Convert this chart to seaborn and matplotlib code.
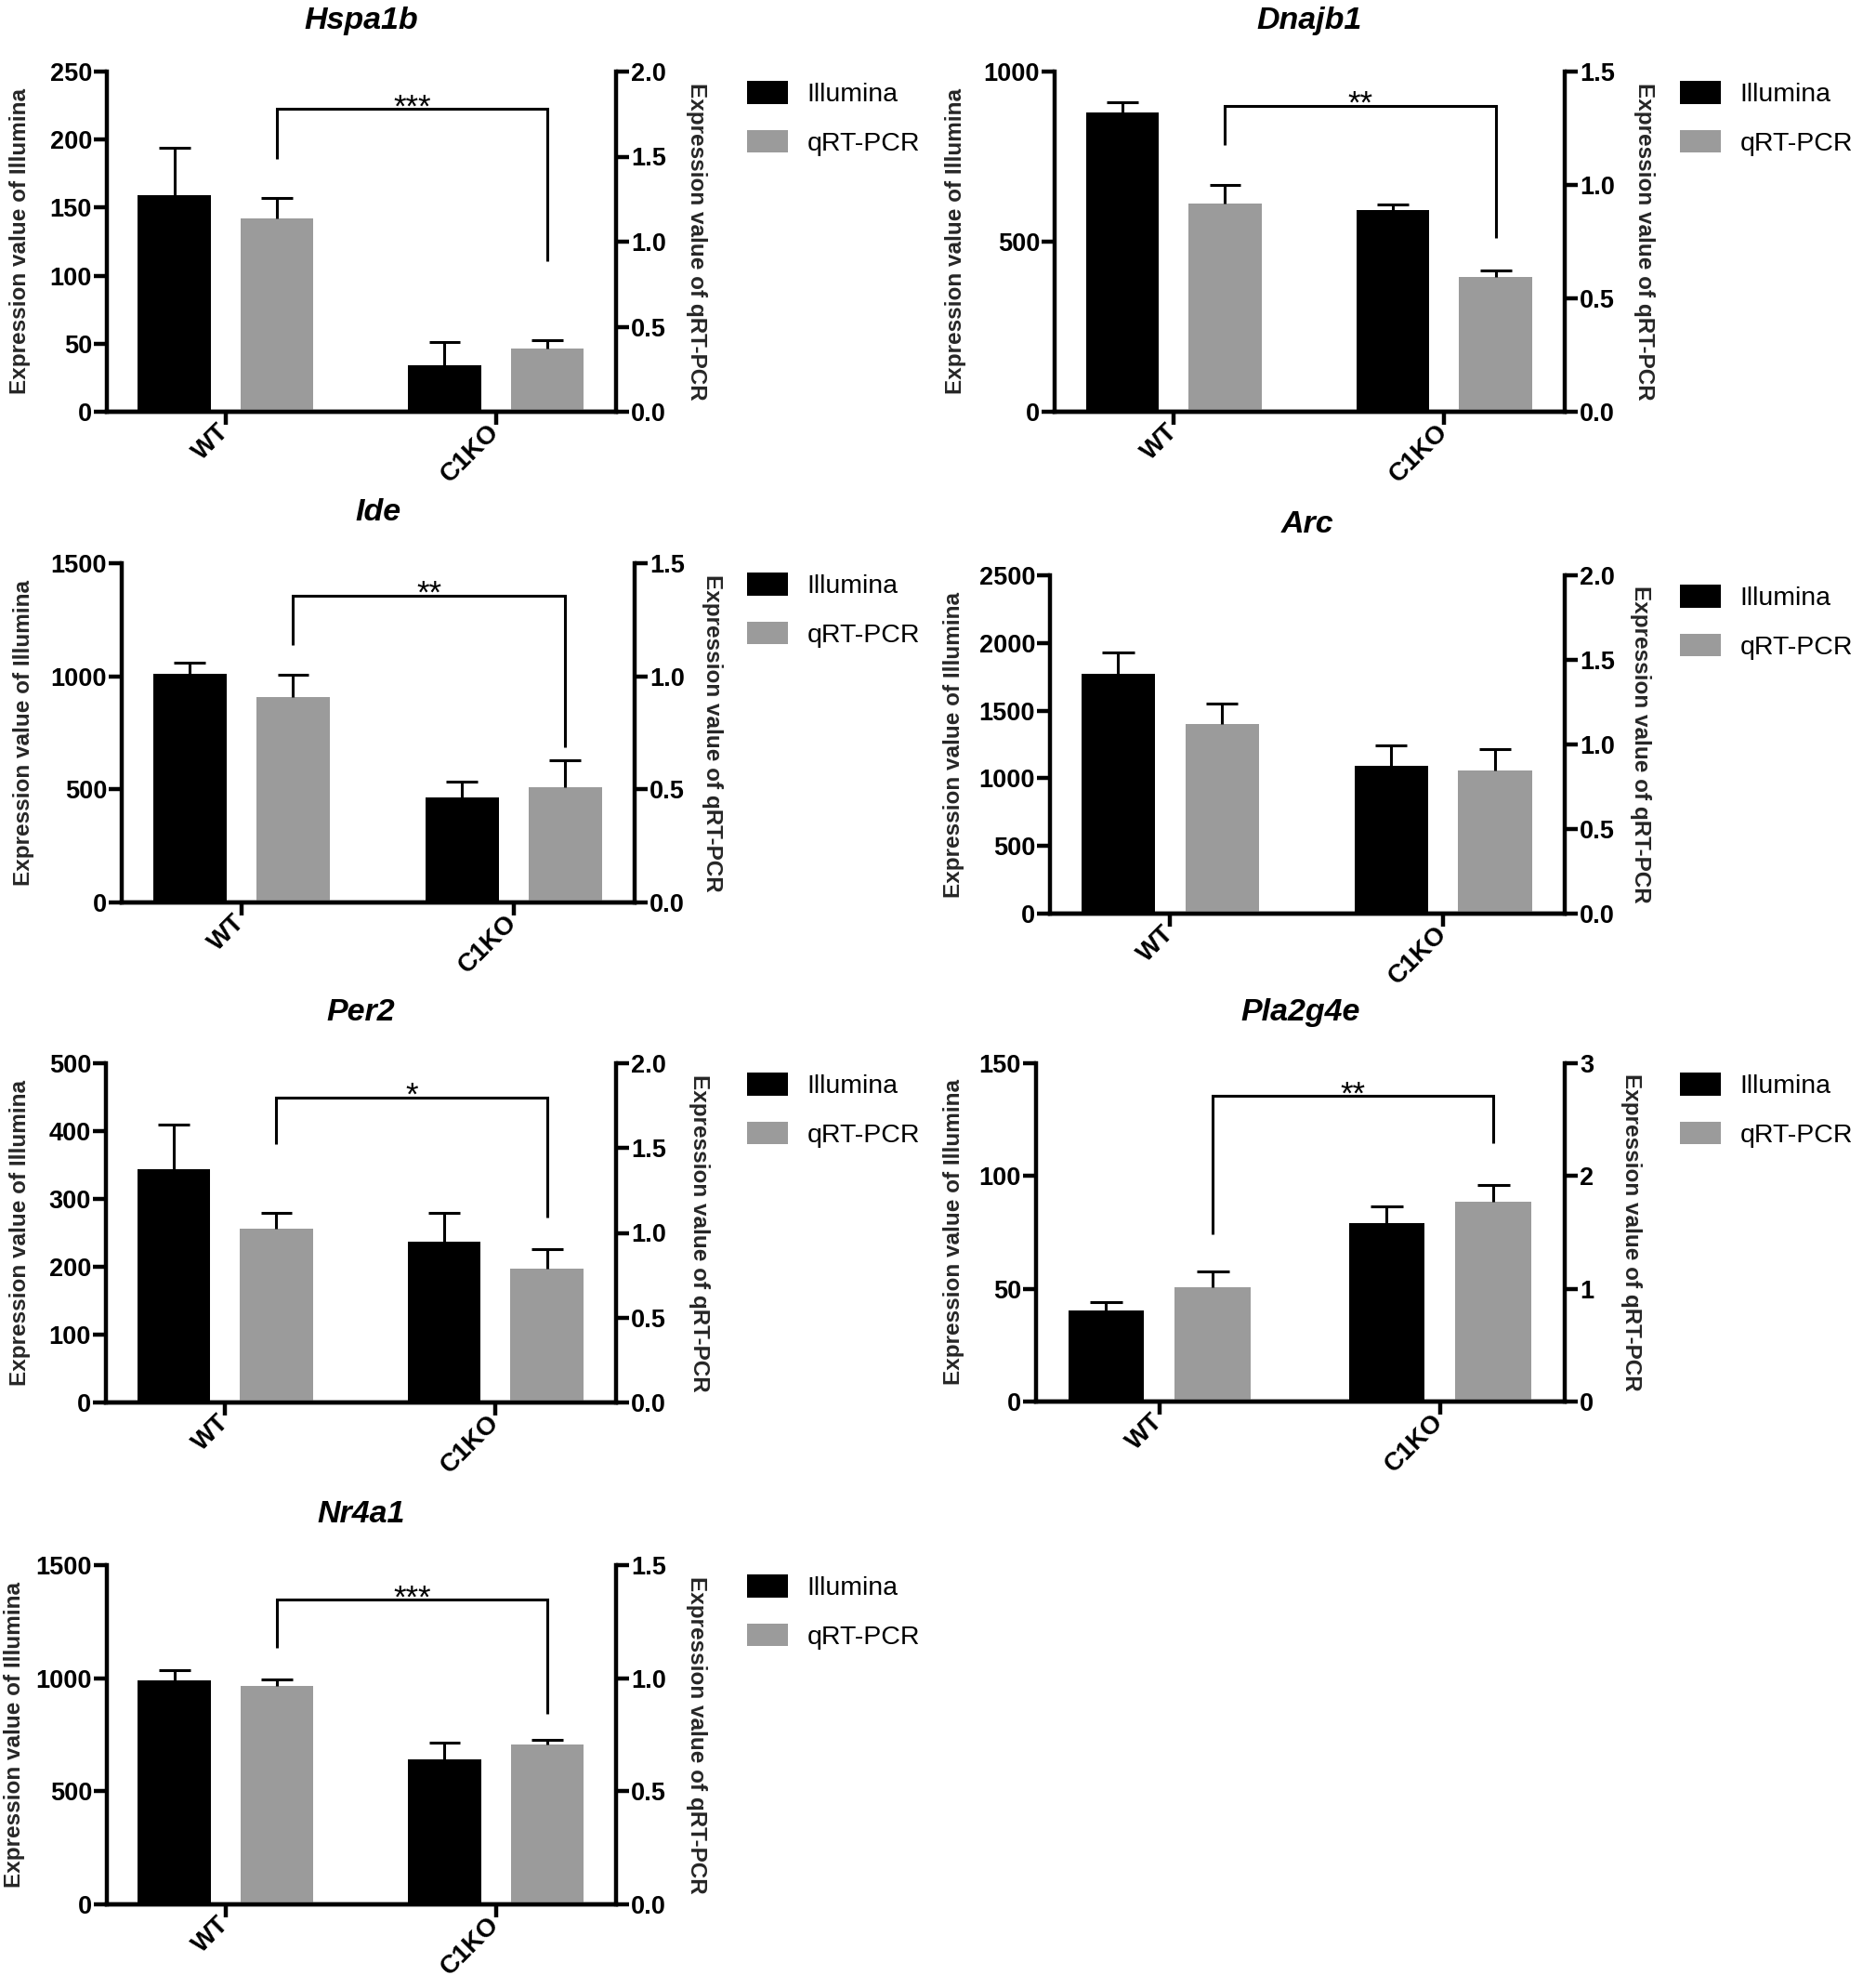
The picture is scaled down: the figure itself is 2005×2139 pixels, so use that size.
import numpy as np
import pandas as pd
import matplotlib
matplotlib.use("Agg")
import matplotlib.pyplot as plt
from matplotlib.patches import Patch
import seaborn as sns

genes = ["Hspa1b", "Dnajb1", "Ide", "Arc", "Per2", "Pla2g4e", "Nr4a1"]
groups = ["WT", "C1KO"]
series = ["Illumina", "qRT-PCR"]

# Illumina expression (left axis): mean and SEM for WT / C1KO
illumina_mean = [[159, 34], [880, 592], [1012, 466], [1775, 1093], [344, 237], [40.4, 79.1], [990, 642]]
illumina_sem = [[35, 17], [30, 17], [50, 70], [155, 150], [66, 42], [3.5, 7.4], [47, 73]]

# qRT-PCR expression (right axis)
qpcr_mean = [[1.135, 0.37], [0.918, 0.594], [0.908, 0.509], [1.12, 0.845], [1.026, 0.791], [1.012, 1.774], [0.965, 0.707]]
qpcr_sem = [[0.12, 0.05], [0.08, 0.031], [0.097, 0.118], [0.12, 0.128], [0.09, 0.112], [0.143, 0.146], [0.028, 0.021]]

left_ticks = [[0, 50, 100, 150, 200, 250], [0, 500, 1000], [0, 500, 1000, 1500],
              [0, 500, 1000, 1500, 2000, 2500], [0, 100, 200, 300, 400, 500],
              [0, 50, 100, 150], [0, 500, 1000, 1500]]
right_ticks = [[0.0, 0.5, 1.0, 1.5, 2.0], [0.0, 0.5, 1.0, 1.5], [0.0, 0.5, 1.0, 1.5],
               [0.0, 0.5, 1.0, 1.5, 2.0], [0.0, 0.5, 1.0, 1.5, 2.0], [0, 1, 2, 3],
               [0.0, 0.5, 1.0, 1.5]]

# significance brackets between the qRT-PCR bars (right axis units)
stars = ["***", "**", "**", "", "*", "**", "***"]
bracket_top = [1.78, 1.35, 1.358, np.nan, 1.80, 2.71, 1.348]
bracket_left = [1.486, 1.175, 1.139, np.nan, 1.523, 1.483, 1.135]
bracket_right = [0.884, 0.765, 0.686, np.nan, 1.088, 2.29, 0.844]

palette = {"Illumina": "#000000", "qRT-PCR": "#9b9b9b"}

# layout in pixels: left spine, right spine, top, zero line
W, H = 2005, 2139
boxes = [(115, 663, 77, 443), (1135, 1684, 77, 443), (131, 683, 606, 971),
         (1130, 1684, 619, 983), (114, 663, 1144, 1509), (1115, 1684, 1144, 1508),
         (115, 663, 1684, 2049)]
ylab_off_left = [93, 106, 105, 104, 92, 89, 99]
ylab_off_right = [87, 86, 83, 82, 90, 72, 87]
legend_x = [804, 1808, 804, 1808, 804, 1808, 804]

sns.set_style("ticks")
plt.rcParams["font.family"] = ["Liberation Sans", "DejaVu Sans"]
plt.rcParams["axes.edgecolor"] = "black"
plt.rcParams["xtick.color"] = "black"
plt.rcParams["ytick.color"] = "black"
plt.rcParams["text.color"] = "black"

LW = 3.2

fig = plt.figure(figsize=(W / 100, H / 100), dpi=100)

for i, gene in enumerate(genes):
    l, r, t, b = boxes[i]
    ax = fig.add_axes([l / W, 1 - b / H, (r - l) / W, (b - t) / H])
    ax2 = ax.twinx()

    df = pd.DataFrame({
        "group": groups * 2,
        "series": [series[0]] * 2 + [series[1]] * 2,
        "value": illumina_mean[i] + qpcr_mean[i],
        "sem": illumina_sem[i] + qpcr_sem[i],
    })

    for a, s in zip([ax, ax2], series):
        sub = df[df["series"] == s]
        sns.barplot(data=sub, x="group", y="value", hue="series", order=groups,
                    hue_order=series, palette=palette, dodge=True, width=0.76, gap=0.29,
                    errorbar=None, legend=False, linewidth=0, ax=a)
        bars = sorted(a.patches, key=lambda p: p.get_x())
        for p, m, e in zip(bars, sub["value"], sub["sem"]):
            xc = p.get_x() + p.get_width() / 2
            cw = p.get_width() * 0.43
            a.vlines(xc, m, m + e, color="black", lw=2.2, zorder=3)
            a.hlines(m + e, xc - cw / 2, xc + cw / 2, color="black", lw=2.2, zorder=3)

    ax.set_xlim(-0.44, 1.445)
    ax.set_ylim(0, left_ticks[i][-1])
    ax.set_yticks(left_ticks[i], labels=[str(v) for v in left_ticks[i]],
                  fontweight="bold", fontsize=19.5)
    ax2.set_ylim(0, right_ticks[i][-1])
    rlabels = [f"{v:.1f}" if isinstance(v, float) else str(v) for v in right_ticks[i]]
    ax2.set_yticks(right_ticks[i], labels=rlabels, fontweight="bold", fontsize=19.5)

    for lbl in ax.get_xticklabels():
        lbl.set(rotation=45, ha="right", va="center", rotation_mode="anchor",
                fontweight="bold", fontsize=20)

    ax.spines["top"].set_visible(False)
    ax.spines["right"].set_visible(False)
    ax2.spines["top"].set_visible(False)
    ax2.spines["left"].set_visible(False)
    for sp in ["left", "bottom"]:
        ax.spines[sp].set_linewidth(LW)
    for sp in ["right", "bottom"]:
        ax2.spines[sp].set_linewidth(LW)

    ax.tick_params(axis="y", direction="out", length=10, width=LW, pad=1.5)
    ax.tick_params(axis="x", direction="out", length=10, width=LW, pad=3)
    ax2.tick_params(axis="y", direction="out", length=10, width=LW, pad=1.5)

    ax.set_xlabel("")
    ax.set_ylabel("Expression value of Illumina", fontsize=17.5, fontweight="bold",
                  va="center", ha="center")
    ax.yaxis.set_label_coords(-ylab_off_left[i] / (r - l), 0.5)
    ax2.set_ylabel("Expression value of qRT-PCR", fontsize=17.5, fontweight="bold",
                   rotation=270, va="center", ha="center")
    ax2.yaxis.set_label_coords(1 + ylab_off_right[i] / (r - l), 0.5)

    ax.set_title(gene, fontsize=24.5, fontweight="bold", fontstyle="italic", pad=33)

    if stars[i]:
        q = sorted(ax2.patches, key=lambda p: p.get_x())
        xl = q[0].get_x() + q[0].get_width() / 2
        xr = q[1].get_x() + q[1].get_width() / 2
        ax2.plot([xl, xl, xr, xr],
                 [bracket_left[i], bracket_top[i], bracket_top[i], bracket_right[i]],
                 color="black", lw=2.2, solid_capstyle="butt", solid_joinstyle="miter")
        ax2.annotate(stars[i], ((xl + xr) / 2, bracket_top[i]), xytext=(0, -6),
                     textcoords="offset points", ha="center", va="baseline", fontsize=25)

    handles = [Patch(facecolor=palette[s], edgecolor="none", label=s) for s in series]
    ax2.legend(handles=handles, loc="upper left",
               bbox_to_anchor=(legend_x[i] / W, 1 - (t + 10) / H),
               bbox_transform=fig.transFigure, frameon=False, fontsize=20.5,
               handlelength=1.55, handleheight=0.95, handletextpad=0.72,
               labelspacing=0.87, borderpad=0, borderaxespad=0)

fig.savefig("out.png", dpi=100)
